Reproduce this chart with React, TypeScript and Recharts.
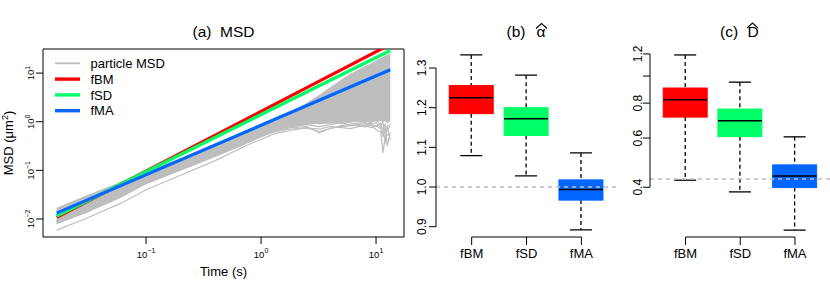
import React from 'react';
import { ComposedChart, Line, Area, Bar, XAxis, YAxis, ReferenceLine, ReferenceArea } from 'recharts';

const FONT = '"Liberation Sans", Arial, Helvetica, sans-serif';
const GREY = '#BEBEBE';

const models = ['fBM', 'fSD', 'fMA'];
const modelColors = ['#FF0000', '#00FF66', '#0066FF'];

// (a) lag times in seconds, MSD as log10 values
const lagTimes = [0.0167, 0.03, 0.06, 0.1, 0.2, 0.4, 0.7, 1, 1.3, 1.8, 2.5, 3.2, 4, 5, 6, 7, 8, 9, 10, 11, 11.5, 12, 12.5, 13.3];
const bandLowLog = [-2.1, -1.87, -1.55, -1.26, -0.98, -0.7, -0.45, -0.28, -0.18, -0.1, -0.05, -0.03, -0.03, -0.01, 0.0, 0.0, 0.01, 0.01, 0.02, 0.02, 0.01, 0.02, 0.01, 0.02];
const bandHighLog = [-1.78, -1.53, -1.25, -1.01, -0.76, -0.46, -0.22, -0.06, 0.05, 0.19, 0.38, 0.54, 0.7, 0.86, 0.98, 1.06, 1.13, 1.19, 1.25, 1.3, 1.32, 1.35, 1.37, 1.39];
const particle1Log = [-2.23, -1.99, -1.68, -1.4, -1.1, -0.8, -0.52, -0.36, -0.25, -0.18, -0.12, -0.2, -0.14, -0.1, -0.08, -0.06, -0.04, -0.08, -0.16, -0.22, -0.64, -0.32, -0.26, -0.3];
const particle2Log = [-2.08, -1.86, -1.55, -1.27, -0.99, -0.71, -0.46, -0.3, -0.2, -0.12, -0.1, -0.23, -0.14, -0.08, -0.05, -0.03, -0.02, -0.05, -0.1, -0.04, -0.25, -0.12, -0.18, -0.08];
const particle3Log = [-2.05, -1.84, -1.53, -1.25, -0.97, -0.69, -0.44, -0.27, -0.14, -0.06, -0.02, -0.04, 0.0, -0.04, -0.01, 0.03, 0.01, -0.02, 0.04, -0.07, -0.02, -0.45, -0.1, -0.04];
const particle4Log = [-2.06, -1.85, -1.54, -1.26, -0.98, -0.7, -0.45, -0.28, -0.18, -0.1, -0.06, -0.1, -0.06, -0.02, -0.08, -0.07, -0.11, -0.05, -0.02, -0.12, -0.14, -0.05, -0.5, -0.22];
const particle5Log = [-2.04, -1.83, -1.52, -1.24, -0.96, -0.68, -0.43, -0.25, -0.12, -0.03, 0.02, 0.03, 0.05, 0.04, 0.06, 0.04, 0.07, 0.05, 0.02, 0.06, 0.0, 0.04, -0.02, 0.02];
const particle6Log = [-2.07, -1.86, -1.54, -1.27, -0.99, -0.71, -0.47, -0.31, -0.21, -0.15, -0.13, -0.15, -0.1, -0.12, -0.14, -0.1, -0.07, -0.12, -0.08, -0.15, -0.3, -0.2, -0.1, -0.38];
const particleLogs = [particle1Log, particle2Log, particle3Log, particle4Log, particle5Log, particle6Log];

// fitted model MSD lines (end points)
const fitTimes = [0.0167, 13.3];
const fitBM = [0.0108, 39];
const fitSD = [0.0115, 29.2];
const fitMA = [0.0132, 11.7];
const fits = [fitBM, fitSD, fitMA];

const msdDomainX = [0.0127, 17.5];
const msdDomainY = [0.00426, 31.3];
const msdTicksX = [0.1, 1, 10];
const msdTicksY = [0.01, 0.1, 1, 10];

// (b) alpha-hat box stats
const alphaLow = [1.079, 1.028, 0.892];
const alphaQ1 = [1.185, 1.13, 0.967];
const alphaMed = [1.225, 1.172, 0.994];
const alphaQ3 = [1.256, 1.2, 1.018];
const alphaHigh = [1.333, 1.282, 1.086];
const alphaTrue = 1.0;
const alphaTicks = [0.9, 1.0, 1.1, 1.2, 1.3];
const alphaDomain = [0.874, 1.353];

// (c) D-hat box stats
const dLow = [0.424, 0.385, 0.281];
const dQ1 = [0.713, 0.607, 0.399];
const dMed = [0.822, 0.692, 0.439];
const dQ3 = [0.906, 0.762, 0.481];
const dHigh = [1.19, 0.951, 0.606];
const dTrue = 0.428;
const dTicks = [0.4, 0.6, 0.8, 1.0, 1.2];
const dDomain = [0.2655, 1.26];

const boxDomainX = [0.35, 3.64];

const msdRows = lagTimes.map((t, i) => {
  const row: any = { t, band: [10 ** bandLowLog[i], 10 ** bandHighLog[i]] };
  particleLogs.forEach((p, j) => {
    row['p' + j] = 10 ** p[i];
  });
  return row;
});

const fitRows = fits.map((f) => fitTimes.map((t, i) => ({ t, v: f[i] })));

const makeBoxRows = (lo: number[], q1: number[], med: number[], q3: number[], hi: number[]) =>
  models.map((name, i) => ({
    name,
    pos: i + 1,
    min: lo[i],
    q1: q1[i],
    med: med[i],
    q3: q3[i],
    max: hi[i],
    color: modelColors[i],
  }));

const alphaRows = makeBoxRows(alphaLow, alphaQ1, alphaMed, alphaQ3, alphaHigh);
const dRows = makeBoxRows(dLow, dQ1, dMed, dQ3, dHigh);

const supText = (e: number) => (e < 0 ? '\u2212' + -e : String(e));

const PowTickX = ({ x, y, payload }: any) => {
  const e = Math.round(Math.log10(payload.value));
  return (
    <text x={x} y={y + 13.5} textAnchor="middle" fontSize={9.5} fontFamily={FONT} fill="#000">
      10<tspan fontSize={7} dy={-4.5}>{supText(e)}</tspan>
    </text>
  );
};

const PowTickY = ({ x, y, payload }: any) => {
  const e = Math.round(Math.log10(payload.value));
  return (
    <text transform={`translate(${x},${y}) rotate(-90)`} textAnchor="middle" fontSize={9.5} fontFamily={FONT} fill="#000">
      10<tspan fontSize={7} dy={-4.5}>{supText(e)}</tspan>
    </text>
  );
};

const CatTick = ({ x, y, payload }: any) => (
  <text x={x} y={y + 12.5} textAnchor="middle" fontSize={13} fontFamily={FONT} fill="#000">
    {models[payload.value - 1]}
  </text>
);

const makeNumTickY = (hide: number[]) => ({ x, y, payload }: any) => {
  const v = payload.value;
  if (hide.some((h) => Math.abs(h - v) < 1e-9)) return <g />;
  return (
    <text transform={`translate(${x},${y}) rotate(-90)`} textAnchor="middle" fontSize={12} fontFamily={FONT} fill="#000">
      {v.toFixed(1)}
    </text>
  );
};

const makeBox = (isLog: boolean) => (props: any) => {
  const { x, y, width, height, payload } = props;
  if (!payload || !isFinite(y) || !isFinite(height)) return <g />;
  const f = (v: number) => (isLog ? Math.log10(v) : v);
  const top = Math.min(y, y + height);
  const bottom = Math.max(y, y + height);
  const span = f(payload.max) - f(payload.min);
  const py = (v: number) => bottom - ((f(v) - f(payload.min)) / span) * (bottom - top);
  const cx = x + width / 2;
  const staple = width / 4;
  return (
    <g>
      <line x1={cx} x2={cx} y1={py(payload.max)} y2={py(payload.q3)} stroke="#000" strokeWidth={1.3} strokeDasharray="4 3" />
      <line x1={cx} x2={cx} y1={py(payload.q1)} y2={py(payload.min)} stroke="#000" strokeWidth={1.3} strokeDasharray="4 3" />
      <line x1={cx - staple} x2={cx + staple} y1={py(payload.max)} y2={py(payload.max)} stroke="#000" strokeWidth={1.3} />
      <line x1={cx - staple} x2={cx + staple} y1={py(payload.min)} y2={py(payload.min)} stroke="#000" strokeWidth={1.3} />
      <rect x={x} y={py(payload.q3)} width={width} height={py(payload.q1) - py(payload.q3)} fill={payload.color} stroke={payload.color} strokeWidth={1} />
      <line x1={x} x2={x + width} y1={py(payload.med)} y2={py(payload.med)} stroke="#000" strokeWidth={1.5} />
    </g>
  );
};

interface BoxPanelProps {
  rows: any[];
  isLog: boolean;
  domain: number[];
  ticks: number[];
  hideTicks: number[];
  refValue: number;
  yAxisWidth: number;
  marginTop: number;
  marginRight: number;
  tickMargin: number;
}

const BoxPanel = ({ rows, isLog, domain, ticks, hideTicks, refValue, yAxisWidth, marginTop, marginRight, tickMargin }: BoxPanelProps) => (
  <ComposedChart width={210} height={297} data={rows} margin={{ top: marginTop, right: marginRight, bottom: 30, left: 0 }}>
    <XAxis
      dataKey="pos"
      type="number"
      domain={boxDomainX}
      allowDataOverflow
      ticks={[1, 2, 3]}
      interval={0}
      height={30}
      axisLine={false}
      tickLine={{ stroke: '#000', strokeWidth: 1 }}
      tickSize={8}
      tickMargin={0}
      tick={<CatTick />}
    />
    <YAxis
      type="number"
      scale={isLog ? 'log' : 'linear'}
      domain={domain}
      allowDataOverflow
      ticks={ticks}
      interval={0}
      width={yAxisWidth}
      axisLine={false}
      tickLine={{ stroke: '#000', strokeWidth: 1 }}
      tickSize={7}
      tickMargin={tickMargin}
      tick={makeNumTickY(hideTicks)}
    />
    <Bar dataKey={(d: any) => [d.min, d.max]} barSize={44} isAnimationActive={false} shape={makeBox(isLog)} />
    <ReferenceLine y={refValue} stroke={GREY} strokeWidth={1.5} strokeDasharray="4 4" ifOverflow="visible" />
    <ReferenceLine
      segment={[{ x: boxDomainX[0], y: ticks[0] }, { x: boxDomainX[0], y: ticks[ticks.length - 1] }]}
      stroke="#000"
      strokeWidth={1}
      ifOverflow="visible"
    />
    <ReferenceLine
      segment={[{ x: 1, y: domain[0] }, { x: 3, y: domain[0] }]}
      stroke="#000"
      strokeWidth={1}
      ifOverflow="visible"
    />
  </ComposedChart>
);

const Hat = ({ x0, x1, yBase, yTop }: { x0: number; x1: number; yBase: number; yTop: number }) => (
  <path d={`M${x0},${yBase} L${(x0 + x1) / 2},${yTop} L${x1},${yBase}`} fill="none" stroke="#000" strokeWidth={1.1} />
);

const legendLabels = ['particle MSD', ...models];
const legendColors = [GREY, ...modelColors];

export default function App() {
  return (
    <div style={{ position: 'absolute', left: 0, top: 0, width: 830, height: 297, background: '#fff', fontFamily: FONT }}>
      <div style={{ position: 'absolute', left: 0, top: 0 }}>
        <ComposedChart width={420} height={297} data={msdRows} margin={{ top: 49, right: 16, bottom: 30, left: 0 }}>
          <XAxis
            dataKey="t"
            type="number"
            scale="log"
            domain={msdDomainX}
            allowDataOverflow
            ticks={msdTicksX}
            interval={0}
            height={30}
            axisLine={false}
            tickLine={{ stroke: '#000', strokeWidth: 1 }}
            tickSize={7}
            tickMargin={0}
            tick={<PowTickX />}
          />
          <YAxis
            type="number"
            scale="log"
            domain={msdDomainY}
            allowDataOverflow
            ticks={msdTicksY}
            interval={0}
            width={43}
            axisLine={false}
            tickLine={{ stroke: '#000', strokeWidth: 1 }}
            tickSize={7}
            tickMargin={2}
            tick={<PowTickY />}
          />
          <Area dataKey="band" stroke={GREY} strokeWidth={1} fill={GREY} fillOpacity={1} isAnimationActive={false} dot={false} activeDot={false} />
          {particleLogs.map((_, j) => (
            <Line key={'p' + j} dataKey={'p' + j} stroke={GREY} strokeWidth={1.2} dot={false} activeDot={false} isAnimationActive={false} />
          ))}
          {fitRows.map((rows, i) => (
            <Line
              key={models[i]}
              data={rows}
              dataKey="v"
              stroke={modelColors[i]}
              strokeWidth={3.2}
              dot={false}
              activeDot={false}
              isAnimationActive={false}
            />
          ))}
          <ReferenceArea
            x1={msdDomainX[0]}
            x2={msdDomainX[1]}
            y1={msdDomainY[0]}
            y2={msdDomainY[1]}
            fill="none"
            fillOpacity={0}
            stroke="#000"
            strokeWidth={1}
            ifOverflow="visible"
          />
        </ComposedChart>
      </div>
      <div style={{ position: 'absolute', left: 410, top: 0 }}>
        <BoxPanel
          rows={alphaRows}
          isLog={false}
          domain={alphaDomain}
          ticks={alphaTicks}
          hideTicks={[]}
          refValue={alphaTrue}
          yAxisWidth={26}
          marginTop={47}
          marginRight={3.5}
          tickMargin={3}
        />
      </div>
      <div style={{ position: 'absolute', left: 620, top: 0 }}>
        <BoxPanel
          rows={dRows}
          isLog={true}
          domain={dDomain}
          ticks={dTicks}
          hideTicks={[1.0]}
          refValue={dTrue}
          yAxisWidth={30}
          marginTop={48}
          marginRight={0}
          tickMargin={1}
        />
      </div>
      <svg width={830} height={297} style={{ position: 'absolute', left: 0, top: 0, pointerEvents: 'none' }}>
        <g fontFamily={FONT} fill="#000">
          <text x={223.5} y={37} textAnchor="middle" fontSize={15.5}>(a)&#160;&#160;MSD</text>
          <text x={223.5} y={276} textAnchor="middle" fontSize={13}>Time (s)</text>
          <text transform="translate(13,143) rotate(-90)" textAnchor="middle" fontSize={13}>
            MSD (μm<tspan fontSize={9} dy={-5}>2</tspan><tspan dy={5}>)</tspan>
          </text>
          <text x={506.5} y={37} fontSize={15.5}>(b)</text>
          <text x={536.5} y={37} fontSize={15.5}>α</text>
          <Hat x0={536} x1={547} yBase={28.5} yTop={23.5} />
          <text x={720} y={37} fontSize={15.5}>(c)</text>
          <text x={747.5} y={37} fontSize={15.5}>D</text>
          <Hat x0={747} x1={758} yBase={28} yTop={23} />
          {legendLabels.map((label, i) => {
            const yy = 63.3 + i * 15.8;
            return (
              <g key={label}>
                <line x1={55} x2={80} y1={yy} y2={yy} stroke={legendColors[i]} strokeWidth={i === 0 ? 1.8 : 3.4} />
                <text x={90.5} y={yy + 4.7} fontSize={13}>{label}</text>
              </g>
            );
          })}
        </g>
      </svg>
    </div>
  );
}
